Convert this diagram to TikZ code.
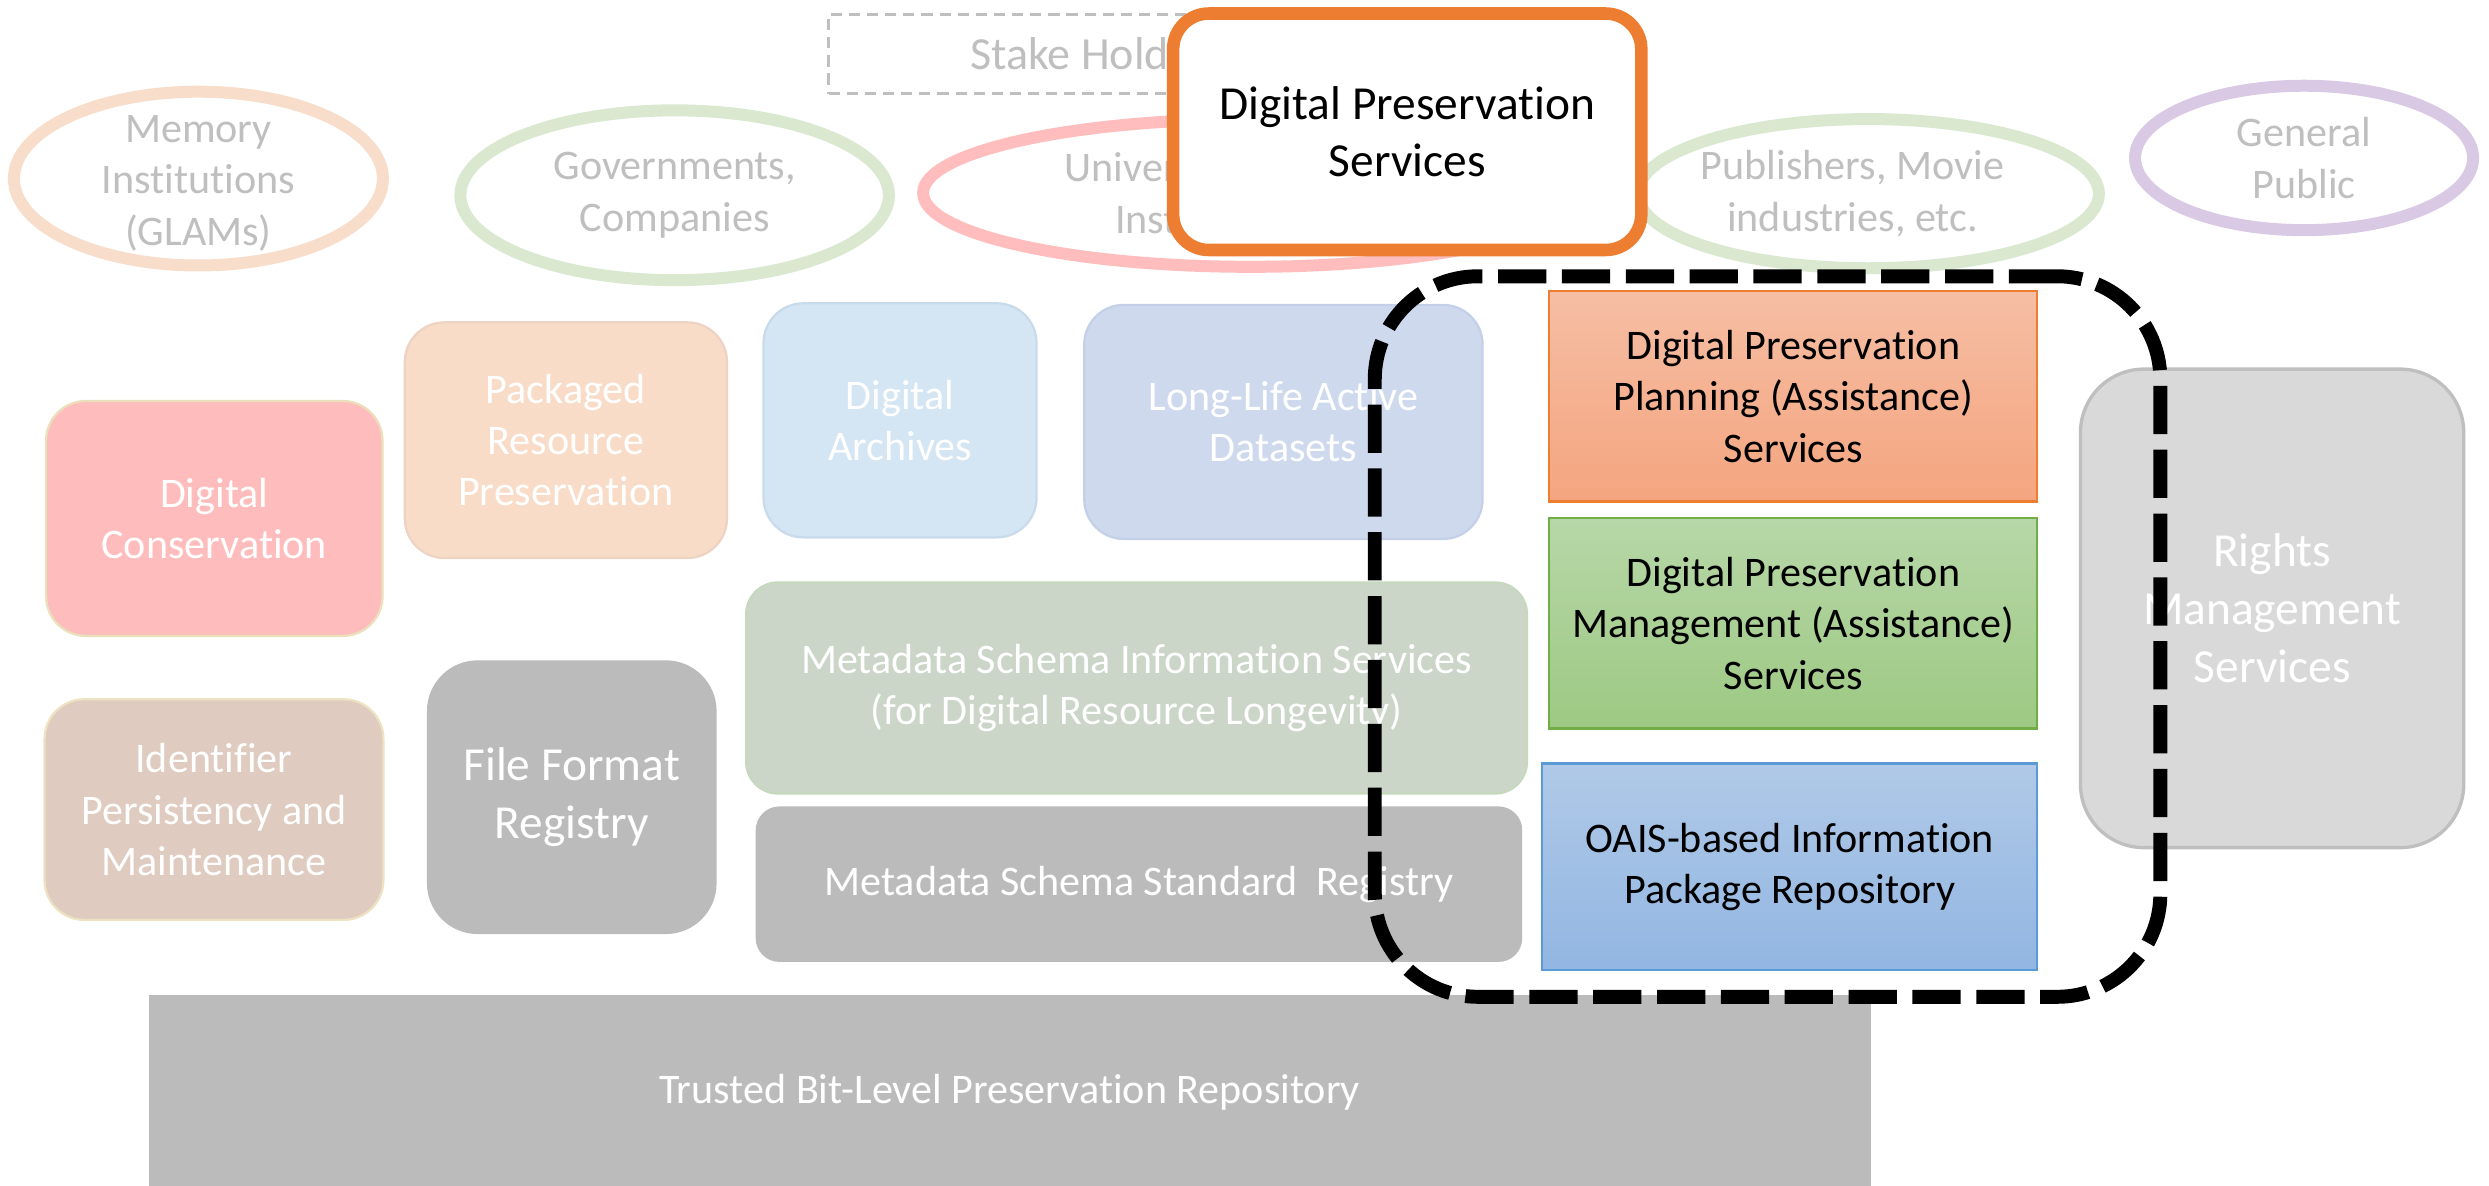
\documentclass[tikz,border=0pt]{standalone}
\usepackage{fontspec}
\setmainfont{Carlito}[Ligatures=NoCommon]
\usetikzlibrary{shapes.geometric}

\definecolor{holderGrey}{HTML}{BFBFBF}
\definecolor{memLine}{HTML}{F8DDCB}
\definecolor{govLine}{HTML}{DAE8D0}
\definecolor{uniLine}{HTML}{FFBDBD}
\definecolor{genLine}{HTML}{D9C9E5}
\definecolor{dpOrange}{HTML}{ED7D31}
\definecolor{consFill}{HTML}{FFBCBC}
\definecolor{consLine}{HTML}{EBE0BC}
\definecolor{packFill}{HTML}{F8DCC8}
\definecolor{packLine}{HTML}{EDD3C3}
\definecolor{archFill}{HTML}{D4E5F3}
\definecolor{archLine}{HTML}{C9DAEA}
\definecolor{lladFill}{HTML}{CED9EE}
\definecolor{lladLine}{HTML}{C3D0E7}
\definecolor{infoFill}{HTML}{CBD5C8}
\definecolor{infoLine}{HTML}{C6D9BE}
\definecolor{identFill}{HTML}{DFCBBF}
\definecolor{identLine}{HTML}{EDE2C1}
\definecolor{regGrey}{HTML}{BBBBBB}
\definecolor{rightsFill}{HTML}{D9D9D9}
\definecolor{rightsLine}{HTML}{BFBFBF}
\definecolor{planTop}{HTML}{F6BEA4}
\definecolor{planBottom}{HTML}{F4A57F}
\definecolor{mgmtTop}{HTML}{B7D7A8}
\definecolor{mgmtBottom}{HTML}{9DC983}
\definecolor{mgmtLine}{HTML}{70AD47}
\definecolor{oaisTop}{HTML}{B0C9E7}
\definecolor{oaisBottom}{HTML}{92B6E2}
\definecolor{oaisLine}{HTML}{5B9BD5}

\begin{document}
\begin{tikzpicture}[x=0.02cm, y=-0.02cm,
      every node/.style={inner sep=0pt, outer sep=0pt, align=center,
        font=\fontsize{15.1}{18.4}\selectfont},
      bigtext/.style={font=\fontsize{17}{20.7}\selectfont},
      holder/.style={ellipse, draw, line width=4.3pt},
      holdertext/.style={text=holderGrey},
      palebox/.style={rectangle, draw, line width=0.8pt, rounded corners=0.5cm, text=white},
      greybox/.style={rectangle, fill=regGrey, rounded corners=0.6cm, text=white},
      servicebox/.style={rectangle, draw, line width=0.8pt, text=black},
      scopebox/.style={rectangle, draw=black, line width=5pt,
        dash pattern=on 17.3pt off 5.6pt, rounded corners=1.3cm},]
  \useasboundingbox (0,0) rectangle (1568,747);
  \fill[white] (0,0) rectangle (1568,747);

  \node[holder, draw=memLine, minimum width=4.65cm, minimum height=2.19cm,
    label={[holdertext, yshift=-0.06cm]center:{Memory\\Institutions\\(GLAMs)}}] (memory) at (125,112.5) {};
  \node[holder, draw=govLine, minimum width=5.4cm, minimum height=2.14cm,
    label={[holdertext]center:{Governments,\\Companies}}] (govts) at (425,123) {};
  \node[holder, draw=uniLine, minimum width=8.26cm, minimum height=1.86cm,
    label={[holdertext, align=right, xshift=-1.02cm]center:{Universities,\\Institutes}}] (univs) at (788,121.6) {};
  \node[holder, draw=govLine, minimum width=5.81cm, minimum height=1.88cm,
    label={[holdertext, xshift=-0.2cm]center:{Publishers, Movie\\industries, etc.}}] (publishers) at (1177,122) {};
  \node[holder, draw=genLine, minimum width=4.26cm, minimum height=1.82cm,
    label={[holdertext]center:{General\\Public}}] (public) at (1451.5,99.5) {};

  \node[rectangle, draw=holderGrey, line width=1pt, dash pattern=on 4pt off 2.5pt,
    text=holderGrey, font=\fontsize{16.5}{20}\selectfont,
    minimum width=6.78cm, minimum height=1cm] (stakeholders) at (691.5,34) {Stake Holders};
  \node[rectangle, draw=dpOrange, line width=4.5pt, rounded corners=0.45cm, fill=white, bigtext,
    minimum width=5.9cm, minimum height=2.98cm] (dpservices) at (886.5,83) {Digital Preservation\\Services};

  \node[palebox, fill=consFill, draw=consLine, minimum width=4.24cm, minimum height=2.96cm]
    (conservation) at (135,326.6) {Digital\\Conservation};
  \node[palebox, fill=packFill, draw=packLine, minimum width=4.06cm, minimum height=2.97cm]
    (packaged) at (356.5,277.3) {Packaged\\Resource\\Preservation};
  \node[palebox, fill=archFill, draw=archLine, minimum width=3.44cm, minimum height=2.95cm]
    (archives) at (567,264.8) {Digital\\Archives};
  \node[palebox, fill=lladFill, draw=lladLine, minimum width=5.02cm, minimum height=2.95cm]
    (datasets) at (808.5,265.8) {Long-Life Active\\Datasets};
  \node[palebox, fill=infoFill, draw=infoLine, rounded corners=0.4cm, minimum width=9.84cm, minimum height=2.66cm]
    (mdinfo) at (716,433.4) {Metadata Schema Information Services\\(for Digital Resource Longevity)};
  \node[palebox, fill=identFill, draw=identLine, minimum width=4.27cm, minimum height=2.78cm]
    (identifier) at (134.8,510) {Identifier\\Persistency and\\Maintenance};
  \node[greybox, bigtext, rounded corners=0.64cm, minimum width=3.65cm, minimum height=3.45cm]
    (fileformat) at (360.2,502.2) {File Format\\Registry};
  \node[greybox, rounded corners=0.3cm, minimum width=9.66cm, minimum height=1.96cm]
    (mdregistry) at (717.5,557) {Metadata Schema Standard\ \ Registry};
  \node[greybox, sharp corners, minimum width=21.7cm, minimum height=2.44cm]
    (bitlevel) at (636,688) {Trusted Bit-Level Preservation Repository};

  \node[servicebox, top color=planTop, bottom color=planBottom, draw=dpOrange,
    minimum width=6.15cm, minimum height=2.65cm]
    (planning) at (1129.75,249.75) {Digital Preservation\\Planning (Assistance)\\Services};
  \node[servicebox, top color=mgmtTop, bottom color=mgmtBottom, draw=mgmtLine,
    minimum width=6.15cm, minimum height=2.65cm]
    (management) at (1129.75,392.75) {Digital Preservation\\Management (Assistance)\\Services};
  \node[servicebox, top color=oaisTop, bottom color=oaisBottom, draw=oaisLine,
    minimum width=6.24cm, minimum height=2.6cm]
    (oais) at (1127.5,546) {OAIS-based Information\\Package Repository};
  \node[rectangle, fill=rightsFill, draw=rightsLine, line width=1.2pt, rounded corners=0.8cm,
    text=white, bigtext, minimum width=4.83cm, minimum height=6.03cm]
    (rights) at (1431.35,383.25) {Rights\\Management\\Services};

  \node[scopebox, minimum width=9.9cm, minimum height=9.08cm] (dpscope) at (1113.5,401) {};
\end{tikzpicture}
\end{document}
